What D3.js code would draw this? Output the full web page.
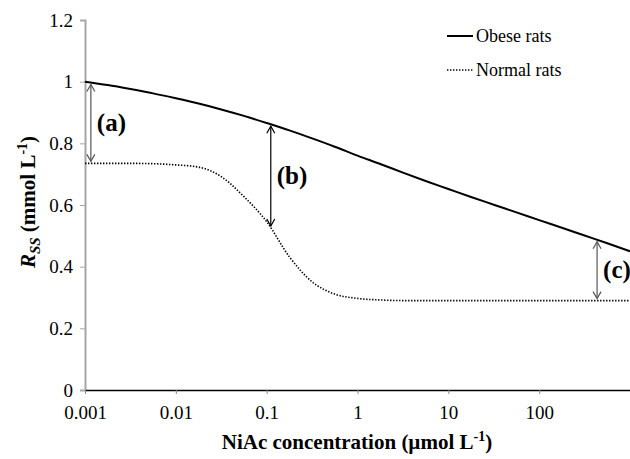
<!DOCTYPE html>
<html>
<head>
<meta charset="utf-8">
<script src="https://cdn.jsdelivr.net/npm/d3@7"></script>
<style>
  html, body { margin: 0; padding: 0; background: #fff; }
  svg text { font-family: "Liberation Serif", "Times New Roman", Times, "DejaVu Serif", serif !important; }
</style>
</head>
<body>
<svg id="chart" width="630" height="459"></svg>
<script>
// NiAc concentration (µmol/L), log10 steps of a quarter decade
const logConc = [-3, -2.75, -2.5, -2.25, -2, -1.75, -1.5, -1.25, -1, -0.75, -0.5, -0.25,
                 0, 0.25, 0.5, 0.75, 1, 1.25, 1.5, 1.75, 2, 2.25, 2.5, 2.75, 3];
// Steady-state response R_SS (mmol/L)
const obese = [1.000, 0.989, 0.976, 0.962, 0.946, 0.929, 0.910, 0.889, 0.866, 0.842, 0.816, 0.789,
               0.760, 0.733, 0.705, 0.678, 0.652, 0.626, 0.601, 0.576, 0.551, 0.526, 0.501, 0.476, 0.450];
const normal = [0.735, 0.735, 0.735, 0.734, 0.730, 0.723, 0.692, 0.627, 0.546, 0.432, 0.351, 0.311,
                0.297, 0.292, 0.290, 0.290, 0.290, 0.290, 0.290, 0.290, 0.290, 0.290, 0.290, 0.290, 0.290];

const xTicks = [0.001, 0.01, 0.1, 1, 10, 100];
const xTickLabels = ["0.001", "0.01", "0.1", "1", "10", "100"];
const yTicks = [0, 0.2, 0.4, 0.6, 0.8, 1, 1.2];
const yTickLabels = ["0", "0.2", "0.4", "0.6", "0.8", "1", "1.2"];

// Difference markers: concentration where each double arrow sits
const arrowConc = [0.00116, 0.111, 434];
const arrowLabels = ["(a)", "(b)", "(c)"];
const arrowColors = ["#555", "#000", "#555"];

const legendLabels = ["Obese rats", "Normal rats"];

const FONT = "'Liberation Serif', 'Times New Roman', Times, 'DejaVu Serif', serif";

const svg = d3.select("#chart");
const x = d3.scaleLog().domain([0.001, 1000]).range([85, 630]);
const y = d3.scaleLinear().domain([0, 1.2]).range([390, 20]);

const conc = logConc.map(v => Math.pow(10, v));
const obeseData = conc.map((c, i) => ({ c, v: obese[i] }));
const normalData = conc.map((c, i) => ({ c, v: normal[i] }));

// value of a series at a given concentration (linear in log concentration)
function valueAt(series, c) {
  const l = Math.log10(c);
  const i = Math.min(series.length - 2, Math.max(0, d3.bisectRight(logConc, l) - 1));
  const t = (l - logConc[i]) / (logConc[i + 1] - logConc[i]);
  return series[i] + t * (series[i + 1] - series[i]);
}

// axes
const yAxis = d3.axisLeft(y).tickValues(yTicks).tickFormat((d, i) => yTickLabels[i])
  .tickSize(5).tickPadding(7);
const gy = svg.append("g").attr("transform", `translate(${x(0.001)},0)`).call(yAxis)
  .attr("font-family", FONT);
gy.select(".domain").attr("stroke", "#a6a6a6").attr("stroke-width", 2);
gy.selectAll(".tick line").attr("stroke", "#a6a6a6").attr("stroke-width", 1);
gy.selectAll(".tick text").attr("font-size", 19).attr("fill", "#000");

const xAxis = d3.axisBottom(x).tickValues(xTicks).tickFormat((d, i) => xTickLabels[i])
  .tickSize(4).tickPadding(12).tickSizeOuter(0);
const gx = svg.append("g").attr("transform", `translate(0,${y(0)})`).call(xAxis)
  .attr("font-family", FONT);
gx.select(".domain").attr("stroke", "#000").attr("stroke-width", 1.3);
gx.selectAll(".tick line").attr("stroke", "#888").attr("stroke-width", 1);
gx.selectAll(".tick text").attr("font-size", 19).attr("fill", "#000");

// curves
const line = d3.line().x(d => x(d.c)).y(d => y(d.v)).curve(d3.curveMonotoneX);
svg.append("path").datum(normalData).attr("d", line)
  .attr("fill", "none").attr("stroke", "#000").attr("stroke-width", 1.6)
  .attr("stroke-dasharray", "1.4,1.6");
svg.append("path").datum(obeseData).attr("d", line)
  .attr("fill", "none").attr("stroke", "#000").attr("stroke-width", 2);

// double arrows
arrowConc.forEach((c, i) => {
  const px = x(c);
  const top = y(valueAt(obese, c)) + 2;
  const bot = y(valueAt(normal, c)) - 2;
  const g = svg.append("g").attr("stroke", arrowColors[i]).attr("fill", "none").attr("stroke-width", 1.2);
  g.append("line").attr("x1", px).attr("x2", px).attr("y1", top).attr("y2", bot);
  g.append("path").attr("d", `M${px - 4},${top + 7}L${px},${top}L${px + 4},${top + 7}`);
  g.append("path").attr("d", `M${px - 4},${bot - 7}L${px},${bot}L${px + 4},${bot - 7}`);
  svg.append("text").attr("x", px + 6).attr("y", (top + bot) / 2 + 8)
    .attr("font-family", FONT)
    .attr("font-size", 25).attr("font-weight", "bold").attr("fill", "#000")
    .text(arrowLabels[i]);
});

// legend
const legend = svg.append("g").attr("font-family", FONT);
legendLabels.forEach((lab, i) => {
  const ly = 36 + i * 34;
  legend.append("line").attr("x1", 447).attr("x2", 473).attr("y1", ly).attr("y2", ly)
    .attr("stroke", "#000").attr("stroke-width", i === 0 ? 2 : 1.6)
    .attr("stroke-dasharray", i === 0 ? null : "1.4,1.6");
  legend.append("text").attr("x", 476).attr("y", ly + 6).attr("font-size", 18).attr("fill", "#000")
    .text(lab);
});

// axis titles
const xt = svg.append("text").attr("x", 357).attr("y", 449).attr("text-anchor", "middle")
  .attr("font-family", FONT)
  .attr("font-size", 21).attr("font-weight", "bold").attr("fill", "#000");
xt.append("tspan").text("NiAc concentration (µmol L");
xt.append("tspan").attr("font-size", 14).attr("dy", -8).text("-1");
xt.append("tspan").attr("dy", 8).text(")");

const yt = svg.append("text").attr("transform", "translate(35,202) rotate(-90)")
  .attr("font-family", FONT)
  .attr("text-anchor", "middle").attr("font-size", 21).attr("font-weight", "bold").attr("fill", "#000");
yt.append("tspan").attr("font-style", "italic").text("R");
yt.append("tspan").attr("font-style", "italic").attr("font-size", 15).attr("dy", 5).text("SS");
yt.append("tspan").attr("dy", -5).text(" (mmol L");
yt.append("tspan").attr("font-size", 14).attr("dy", -8).text("-1");
yt.append("tspan").attr("dy", 8).text(")");
</script>
</body>
</html>
